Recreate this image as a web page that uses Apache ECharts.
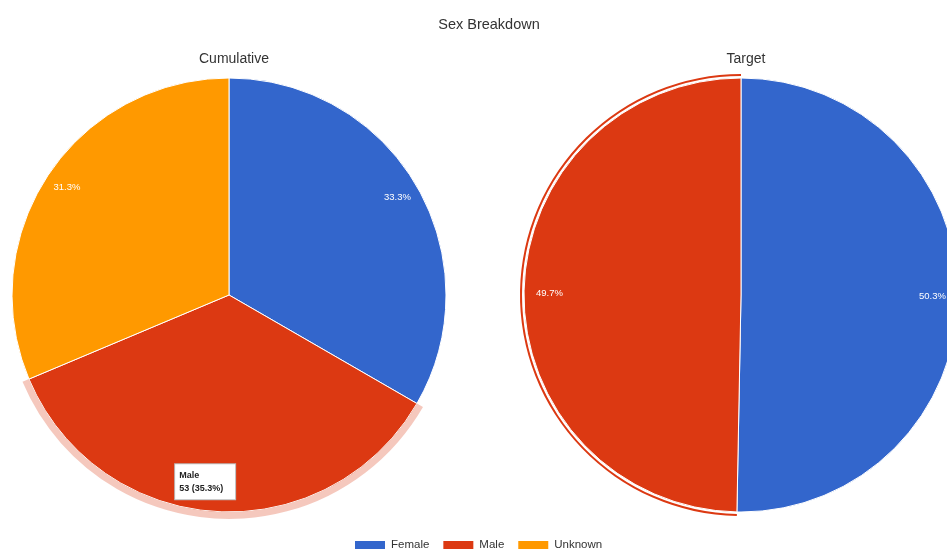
<!DOCTYPE html>
<html>
<head>
<meta charset="utf-8">
<script src="https://cdn.jsdelivr.net/npm/echarts@6/dist/echarts.min.js"></script>
<style>
  html, body { margin: 0; padding: 0; background: #fff; }
  #chart { width: 947px; height: 557px; }
</style>
</head>
<body>
<div id="chart"></div>
<script>
// values
const categories = ["Female", "Male", "Unknown"];
const cumulativeValues = [50, 53, 47];
const targetCategories = ["Female", "Male"];
const targetValues = [50.3, 49.7];
const sliceColors = ["#3366cc", "#dc3912", "#ff9900"];

const FONT = "Liberation Sans, Arial, sans-serif";
const R = 217;

function pieData(names, values, fn) {
  return names.map((n, i) => fn ? fn(n, values[i], i) : { name: n, value: values[i] });
}

// plain per-slice percentage (no largest-remainder fix-up)
function pct(values) {
  const total = values.reduce((a, b) => a + b, 0);
  return p => (p.value / total * 100).toFixed(1) + "%";
}

// transparent copy of a pie, used for rings / labels
function overlay(center, radius, names, values, extra) {
  return Object.assign({
    type: "pie",
    center: center,
    radius: radius,
    startAngle: 90,
    silent: true,
    animation: false,
    label: { show: false },
    labelLine: { show: false },
    emphasis: { disabled: true },
    itemStyle: { color: "rgba(0,0,0,0)" },
    data: pieData(names, values)
  }, extra);
}

const chart = echarts.init(document.getElementById("chart"));

const titleStyle = { fontSize: 14, fontWeight: "normal", color: "#333", fontFamily: FONT };

chart.setOption({
  animation: false,
  color: sliceColors,
  textStyle: { fontFamily: FONT },
  title: [
    { text: "Sex Breakdown", left: 484, top: 12, textAlign: "center",
      textStyle: Object.assign({}, titleStyle, { fontSize: 14.5 }) },
    { text: "Cumulative", left: 229, top: 47, textAlign: "center", textStyle: titleStyle },
    { text: "Target", left: 741, top: 47, textAlign: "center", textStyle: titleStyle }
  ],
  legend: {
    data: categories,
    bottom: 1,
    left: 348,
    itemWidth: 32,
    itemHeight: 10,
    itemGap: 12,
    icon: "rect",
    textStyle: { fontSize: 11.5, color: "#333", fontFamily: FONT }
  },
  series: [
    {
      name: "Cumulative",
      type: "pie",
      center: [229, 295],
      radius: [0, R],
      startAngle: 90,
      emphasis: { disabled: true },
      itemStyle: { borderColor: "#fff", borderWidth: 1 },
      label: { show: false },
      labelLine: { show: false },
      data: pieData(categories, cumulativeValues)
    },
    {
      name: "Target",
      type: "pie",
      center: [741, 295],
      radius: [0, R],
      startAngle: 90,
      emphasis: { disabled: true },
      itemStyle: { borderColor: "#fff", borderWidth: 1 },
      label: { show: false },
      labelLine: { show: false },
      data: pieData(targetCategories, targetValues)
    },
    // hover ring on Male (left)
    overlay([229, 295], [R, R + 7], categories, cumulativeValues, {
      data: pieData(categories, cumulativeValues, (n, v) => ({
        name: n, value: v,
        itemStyle: { color: n === "Male" ? "rgba(220,57,18,0.28)" : "rgba(0,0,0,0)" }
      }))
    }),
    // selected ring on Male (right)
    overlay([741, 295], [R + 2, R + 4], targetCategories, targetValues, {
      data: pieData(targetCategories, targetValues, (n, v) => ({
        name: n, value: v,
        itemStyle: { color: n === "Male" ? "#dc3912" : "rgba(0,0,0,0)" }
      }))
    }),
    // percentage labels
    overlay([229, 295], [166, R], categories, cumulativeValues, {
      label: { show: true, position: "inside", formatter: pct(cumulativeValues), color: "#fff",
        fontSize: 9.5, fontFamily: FONT },
      data: pieData(categories, cumulativeValues, (n, v) => ({
        name: n, value: v, label: { show: n !== "Male" }
      }))
    }),
    overlay([741, 295], [160, R], targetCategories, targetValues, {
      label: { show: true, position: "inside", formatter: pct(targetValues), color: "#fff",
        fontSize: 9.5, fontFamily: FONT }
    }),
    // tooltip box for Male
    overlay([229, 295], [155, R], categories, cumulativeValues, {
      data: pieData(categories, cumulativeValues, (n, v) => ({
        name: n, value: v,
        label: n === "Male" ? {
          show: true,
          position: "inside",
          formatter: p => "{t|" + p.name + "}\n{t|" + p.value + " (" + pct(cumulativeValues)(p) + ")}",
          backgroundColor: "#fff",
          borderColor: "#bbb",
          borderWidth: 1,
          padding: [5, 4, 4, 4],
          offset: [-12, -2],
          rich: {
            t: { width: 52, align: "left", color: "#222", fontSize: 9,
              fontWeight: "bold", lineHeight: 13, fontFamily: FONT }
          }
        } : { show: false }
      }))
    })
  ]
});
</script>
</body>
</html>
